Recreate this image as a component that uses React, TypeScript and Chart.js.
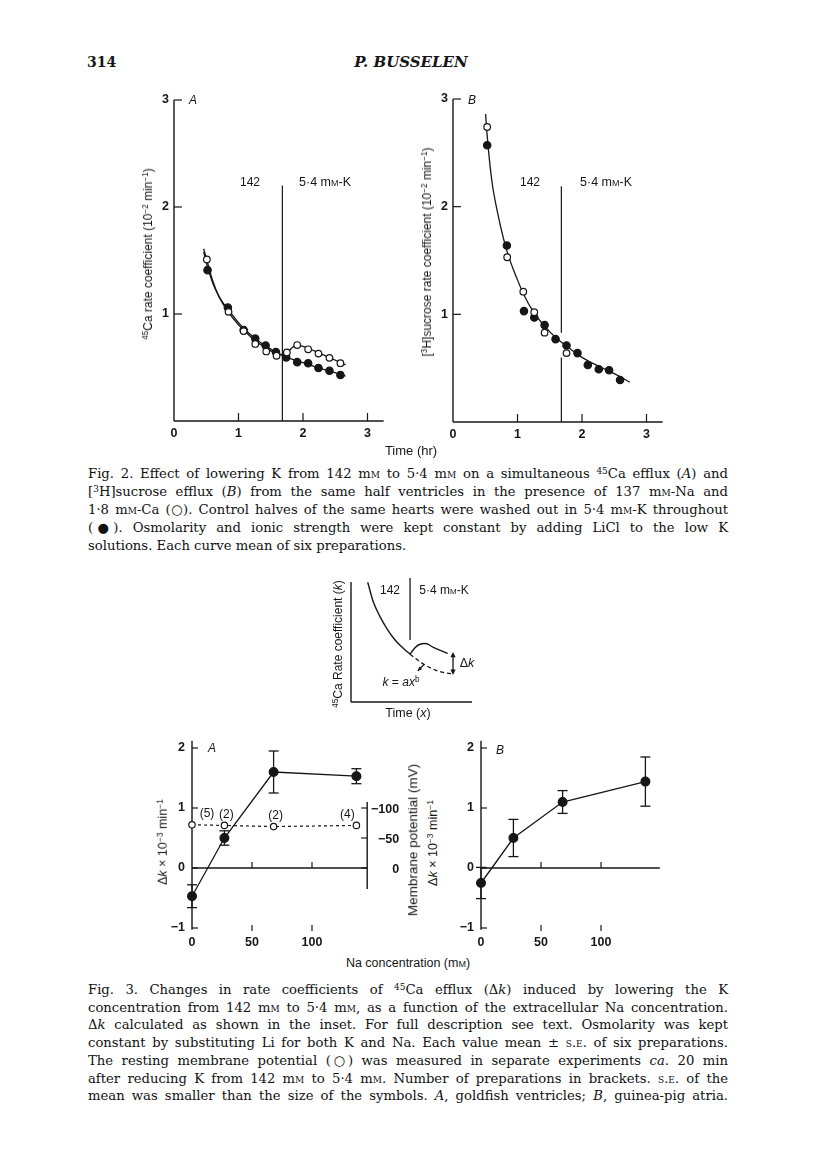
import React, { useEffect, useRef } from "react";
import { Chart, registerables } from "chart.js";
Chart.register(...registerables);

const SANS = "'Liberation Sans', Arial, Helvetica, sans-serif";
const SERIF = "'DejaVu Serif', 'Liberation Serif', serif";
const INK = "#161616";

// ---------------- Fig. 2 data ----------------
const fig2XTicks = [0, 1, 2, 3];
const fig2YTicks = [1, 2, 3];
const switchTime = 1.68;
const switchTop = 2.2;

// A: 45Ca efflux
const caOpenT = [0.51, 0.845, 1.08, 1.26, 1.43, 1.59, 1.75, 1.91, 2.08, 2.24, 2.41, 2.58];
const caOpenK = [1.51, 1.02, 0.84, 0.72, 0.65, 0.61, 0.64, 0.71, 0.67, 0.63, 0.59, 0.54];
const caFilledT = [0.52, 0.835, 1.08, 1.26, 1.42, 1.58, 1.74, 1.91, 2.08, 2.24, 2.41, 2.58];
const caFilledK = [1.41, 1.06, 0.85, 0.77, 0.705, 0.645, 0.595, 0.55, 0.54, 0.495, 0.47, 0.43];
const caOpenFitT = [0.46, 0.52, 0.6, 0.7, 0.84, 1.0, 1.1, 1.25, 1.42, 1.6, 1.68, 1.76, 1.9, 2.08, 2.25, 2.42, 2.66];
const caOpenFitK = [1.61, 1.48, 1.31, 1.16, 1.02, 0.9, 0.84, 0.755, 0.685, 0.625, 0.615, 0.645, 0.71, 0.68, 0.635, 0.59, 0.525];
const caFilledFitT = [0.46, 0.52, 0.6, 0.7, 0.84, 1.0, 1.1, 1.25, 1.42, 1.6, 1.75, 1.92, 2.08, 2.25, 2.42, 2.66];
const caFilledFitK = [1.58, 1.44, 1.29, 1.16, 1.04, 0.92, 0.855, 0.775, 0.7, 0.64, 0.595, 0.56, 0.53, 0.495, 0.465, 0.42];

// B: [3H]sucrose efflux
const sucOpenT = [0.53, 0.84, 1.09, 1.26, 1.42, 1.76];
const sucOpenK = [2.74, 1.53, 1.21, 1.02, 0.83, 0.64];
const sucFilledT = [0.53, 0.835, 1.1, 1.26, 1.42, 1.59, 1.76, 1.93, 2.09, 2.26, 2.42, 2.59];
const sucFilledK = [2.57, 1.64, 1.03, 0.97, 0.9, 0.77, 0.71, 0.64, 0.53, 0.49, 0.48, 0.39];
const sucFitT = [0.505, 0.53, 0.6, 0.7, 0.84, 1.0, 1.1, 1.25, 1.42, 1.6, 1.75, 2.0, 2.25, 2.5, 2.74];
const sucFitK = [2.86, 2.66, 2.25, 1.92, 1.58, 1.32, 1.18, 1.02, 0.89, 0.78, 0.71, 0.6, 0.52, 0.45, 0.37];
const sucSwitchUpper = [2.19, 0.83];
const sucSwitchLower = [0.6, 0];

// ---------------- Inset data (arbitrary units) ----------------
const insetPreX = [1.38, 1.84, 2.4, 2.95, 3.64, 4.32, 4.88];
const insetPreY = [9.98, 8.36, 7.11, 6.14, 5.17, 4.47, 3.98];
const insetPostX = [4.88, 5.29, 5.7, 6.26, 6.8, 7.99];
const insetPostY = [3.98, 4.53, 4.81, 4.85, 4.55, 4.06];
const insetExtX = [4.88, 5.7, 6.53, 7.36, 8.46];
const insetExtY = [3.98, 3.36, 2.86, 2.53, 2.33];
const insetSwitchX = 4.88;
const insetSwitchY = [5.17, 10.33];
const insetDeltaX = 8.43;
const insetDeltaY = [4.17, 2.25];

// ---------------- Fig. 3 data ----------------
const naConc = [0, 27, 68, 137];
const naTicks = [0, 50, 100];
const dkTicks = [2, 1, 0, -1];
const dkA = [-0.47, 0.5, 1.6, 1.53];
const dkAErr = [0.19, 0.12, 0.35, 0.125];
const mvA = [-72, -71, -69, -71];
const mvTicks = [-100, -50, 0];
const nPreps = ["(5)", "(2)", "(2)", "(4)"];
const dkB = [-0.25, 0.5, 1.1, 1.44];
const dkBErr = [0.26, 0.31, 0.19, 0.41];

// ---------------- helpers ----------------
type Rect = { l: number; t: number; w: number; h: number };
type Area = { x0: number; x1: number; y0: number; y1: number };

const xy = (xs: number[], ys: (number | null)[]) => xs.map((x, i) => ({ x, y: ys[i] }));
const pad = (r: Rect, a: Area) => ({
  left: a.x0 - r.l,
  right: r.l + r.w - a.x1,
  top: a.y0 - r.t,
  bottom: r.t + r.h - a.y1,
});

function seg(ctx: CanvasRenderingContext2D, x1: number, y1: number, x2: number, y2: number) {
  ctx.beginPath();
  ctx.moveTo(x1, y1);
  ctx.lineTo(x2, y2);
  ctx.stroke();
}
function head(ctx: CanvasRenderingContext2D, x: number, y: number, ang: number, s = 5) {
  ctx.beginPath();
  ctx.moveTo(x, y);
  ctx.lineTo(x - s * Math.cos(ang - 0.45), y - s * Math.sin(ang - 0.45));
  ctx.lineTo(x - s * Math.cos(ang + 0.45), y - s * Math.sin(ang + 0.45));
  ctx.closePath();
  ctx.fill();
}

const STRAIGHT = { tension: 0, cubicInterpolationMode: "default" };
const lineDs = (data: any[], extra: any = {}) => ({
  data,
  showLine: true,
  borderColor: INK,
  borderWidth: 1.3,
  pointRadius: 0,
  tension: 0.4,
  cubicInterpolationMode: "monotone",
  fill: false,
  clip: false,
  ...extra,
});
const ptDs = (data: any[], open: boolean, r: number, extra: any = {}) => ({
  data,
  showLine: false,
  pointRadius: r,
  pointBackgroundColor: open ? "#fff" : INK,
  pointBorderColor: INK,
  pointBorderWidth: 1.2,
  clip: false,
  ...extra,
});

function baseOptions(r: Rect, a: Area, scales: any) {
  return {
    responsive: false,
    maintainAspectRatio: false,
    animation: false,
    devicePixelRatio: 1,
    events: [],
    layout: { padding: pad(r, a) },
    plugins: { legend: { display: false }, tooltip: { enabled: false }, title: { display: false } },
    scales,
  };
}

function ChartBox({ rect, build }: { rect: Rect; build: () => any }) {
  const ref = useRef<HTMLCanvasElement>(null);
  useEffect(() => {
    const ch = new Chart(ref.current as HTMLCanvasElement, build());
    return () => ch.destroy();
  }, []);
  return (
    <canvas
      ref={ref}
      width={rect.w}
      height={rect.h}
      style={{ position: "absolute", left: rect.l, top: rect.t, width: rect.w, height: rect.h }}
    />
  );
}

const TICKFONT = `bold 12.5px ${SANS}`;

// ---------------- Fig. 2 panels ----------------
const RECT2A: Rect = { l: 120, t: 80, w: 290, h: 370 };
const AREA2A: Area = { x0: 174, x1: 174 + 3.3 * 64.5, y0: 100, y1: 421 };
const RECT2B: Rect = { l: 400, t: 80, w: 290, h: 370 };
const AREA2B: Area = { x0: 453, x1: 453 + 3.3 * 64.5, y0: 99, y1: 422 };

function fig2Axes(chart: any) {
  const ctx = chart.ctx as CanvasRenderingContext2D;
  const X = (v: number) => chart.scales.x.getPixelForValue(v);
  const Y = (v: number) => chart.scales.y.getPixelForValue(v);
  ctx.save();
  ctx.strokeStyle = INK;
  ctx.lineWidth = 1.4;
  seg(ctx, X(0), Y(0), X(0), Y(3));
  seg(ctx, X(0), Y(0), X(3.25), Y(0));
  ctx.lineWidth = 1.2;
  fig2YTicks.forEach((v) => seg(ctx, X(0), Y(v), X(0) + 8, Y(v)));
  fig2XTicks.slice(1).forEach((v) => seg(ctx, X(v), Y(0), X(v), Y(0) - 8));
  ctx.fillStyle = INK;
  ctx.font = TICKFONT;
  ctx.textBaseline = "middle";
  ctx.textAlign = "right";
  fig2YTicks.forEach((v) => ctx.fillText(String(v), X(0) - 5, Y(v)));
  ctx.textAlign = "center";
  fig2XTicks.forEach((v) => ctx.fillText(String(v), X(v), Y(0) + 13));
  ctx.restore();
}

const scales2 = {
  x: { type: "linear", min: 0, max: 3.3, display: false },
  y: { type: "linear", min: 0, max: 3, display: false },
};

const build2A = () => ({
  type: "scatter",
  data: {
    datasets: [
      ptDs(xy(caOpenT, caOpenK), true, 3.3),
      ptDs(xy(caFilledT, caFilledK), false, 3.7),
      lineDs(xy(caOpenFitT, caOpenFitK)),
      lineDs(xy(caFilledFitT, caFilledFitK)),
      lineDs(xy([switchTime, switchTime], [0, switchTop]), { ...STRAIGHT, borderWidth: 1.2 }),
    ],
  },
  options: baseOptions(RECT2A, AREA2A, scales2),
  plugins: [{ id: "ax2a", beforeDatasetsDraw: fig2Axes }],
});

const build2B = () => ({
  type: "scatter",
  data: {
    datasets: [
      ptDs(xy(sucOpenT, sucOpenK), true, 3.3),
      ptDs(xy(sucFilledT, sucFilledK), false, 3.7),
      lineDs(xy(sucFitT, sucFitK)),
      lineDs(
        [
          { x: switchTime, y: sucSwitchUpper[0] },
          { x: switchTime, y: sucSwitchUpper[1] },
          { x: switchTime, y: null },
          { x: switchTime, y: sucSwitchLower[0] },
          { x: switchTime, y: sucSwitchLower[1] },
        ],
        { ...STRAIGHT, borderWidth: 1.2, spanGaps: false }
      ),
    ],
  },
  options: baseOptions(RECT2B, AREA2B, scales2),
  plugins: [{ id: "ax2b", beforeDatasetsDraw: fig2Axes }],
});

// ---------------- Inset ----------------
const RECTI: Rect = { l: 330, t: 565, w: 160, h: 150 };
const AREAI: Area = { x0: 351, x1: 472, y0: 576, y1: 702 };

const buildInset = () => ({
  type: "scatter",
  data: {
    datasets: [
      lineDs(xy(insetPreX, insetPreY), { borderWidth: 1.4 }),
      lineDs(xy(insetPostX, insetPostY), { borderWidth: 1.4, cubicInterpolationMode: "default", tension: 0.35 }),
      lineDs(xy(insetExtX, insetExtY), { borderWidth: 1.3, borderDash: [4, 3] }),
      lineDs(xy([insetSwitchX, insetSwitchX], insetSwitchY), { ...STRAIGHT, borderWidth: 1.3 }),
    ],
  },
  options: baseOptions(RECTI, AREAI, {
    x: { type: "linear", min: 0, max: 10, display: false },
    y: { type: "linear", min: 0, max: 10.5, display: false },
  }),
  plugins: [
    {
      id: "axi",
      beforeDatasetsDraw(chart: any) {
        const ctx = chart.ctx as CanvasRenderingContext2D;
        const X = (v: number) => chart.scales.x.getPixelForValue(v);
        const Y = (v: number) => chart.scales.y.getPixelForValue(v);
        ctx.save();
        ctx.strokeStyle = INK;
        ctx.fillStyle = INK;
        ctx.lineWidth = 1.4;
        seg(ctx, X(0), Y(10), X(0), Y(0));
        seg(ctx, X(0), Y(0), X(10), Y(0));
        ctx.lineWidth = 1.3;
        const ax = X(insetDeltaX);
        const yt = Y(insetDeltaY[0]);
        const yb = Y(insetDeltaY[1]);
        seg(ctx, ax, yt + 3, ax, yb - 3);
        head(ctx, ax, yt, -Math.PI / 2, 6);
        head(ctx, ax, yb, Math.PI / 2, 6);
        const x1 = X(6.06), y1 = Y(3.14), x2 = X(5.52), y2 = Y(2.61);
        seg(ctx, x1, y1, x2, y2);
        head(ctx, x2, y2, Math.atan2(y2 - y1, x2 - x1), 4.5);
        ctx.restore();
      },
    },
  ],
});

// ---------------- Fig. 3 panels ----------------
const RECT3A: Rect = { l: 150, t: 725, w: 270, h: 230 };
const AREA3A: Area = { x0: 192, x1: 192 + 146 * 1.2, y0: 742, y1: 934 };
const RECT3B: Rect = { l: 440, t: 725, w: 240, h: 230 };
const AREA3B: Area = { x0: 481, x1: 481 + 150 * 1.2, y0: 742, y1: 934 };

function fig3Axes(chart: any, xEnd: number, vals: number[], errs: number[]) {
  const ctx = chart.ctx as CanvasRenderingContext2D;
  const X = (v: number) => chart.scales.x.getPixelForValue(v);
  const Y = (v: number) => chart.scales.y.getPixelForValue(v);
  ctx.save();
  ctx.strokeStyle = INK;
  ctx.fillStyle = INK;
  ctx.lineWidth = 1.4;
  seg(ctx, X(0), Y(2.12), X(0), Y(-1.03));
  seg(ctx, X(0), Y(0), X(xEnd), Y(0));
  ctx.lineWidth = 1.2;
  dkTicks.forEach((v) => seg(ctx, X(0), Y(v), X(0) + 6, Y(v)));
  naTicks.slice(1).forEach((v) => {
    seg(ctx, X(v), Y(0), X(v), Y(0) - 6);
    seg(ctx, X(v), Y(-1) - 3, X(v), Y(-1) + 3);
  });
  ctx.font = TICKFONT;
  ctx.textBaseline = "middle";
  ctx.textAlign = "right";
  dkTicks.forEach((v) => ctx.fillText(v < 0 ? "\u2212" + Math.abs(v) : String(v), X(0) - 7, Y(v)));
  ctx.textAlign = "center";
  naTicks.forEach((v) => ctx.fillText(String(v), X(v), Y(-1) + 15));
  ctx.lineWidth = 1.3;
  naConc.forEach((n, i) => {
    const x = X(n);
    const yt = Y(vals[i] + errs[i]);
    const yb = Y(vals[i] - errs[i]);
    seg(ctx, x, yt, x, yb);
    seg(ctx, x - 5, yt, x + 5, yt);
    seg(ctx, x - 5, yb, x + 5, yb);
  });
  ctx.restore();
}

const build3A = () => ({
  type: "scatter",
  data: {
    datasets: [
      ptDs(xy(naConc, dkA), false, 4.4),
      ptDs(xy(naConc, mvA), true, 3.2, { yAxisID: "y2" }),
      lineDs(xy(naConc, dkA), STRAIGHT),
      lineDs(xy(naConc, mvA), { ...STRAIGHT, yAxisID: "y2", borderDash: [3, 3], borderWidth: 1.2 }),
    ],
  },
  options: baseOptions(RECT3A, AREA3A, {
    x: { type: "linear", min: 0, max: 146, display: false },
    y: { type: "linear", min: -1.1, max: 2.1, display: false },
    y2: { type: "linear", min: -210, max: 110, reverse: true, display: false },
  }),
  plugins: [
    {
      id: "ax3a",
      beforeDatasetsDraw(chart: any) {
        fig3Axes(chart, 146, dkA, dkAErr);
        const ctx = chart.ctx as CanvasRenderingContext2D;
        const X = (v: number) => chart.scales.x.getPixelForValue(v);
        const Y2 = (v: number) => chart.scales.y2.getPixelForValue(v);
        ctx.save();
        ctx.strokeStyle = INK;
        ctx.fillStyle = INK;
        ctx.lineWidth = 1.4;
        const xr = X(146);
        seg(ctx, xr, Y2(-110), xr, Y2(35));
        ctx.lineWidth = 1.2;
        mvTicks.forEach((v) => seg(ctx, xr, Y2(v), xr - 6, Y2(v)));
        ctx.font = TICKFONT;
        ctx.textBaseline = "middle";
        ctx.textAlign = "right";
        mvTicks.forEach((v) => ctx.fillText(v < 0 ? "\u2212" + Math.abs(v) : String(v), xr + 32, Y2(v) + 2));
        ctx.font = `12px ${SANS}`;
        ctx.textAlign = "center";
        const offs = [15, 2, 2, -9];
        nPreps.forEach((s, i) => ctx.fillText(s, X(naConc[i]) + offs[i], Y2(mvA[i]) - 11));
        ctx.restore();
      },
    },
  ],
});

const build3B = () => ({
  type: "scatter",
  data: {
    datasets: [
      ptDs(xy(naConc, dkB), false, 4.4),
      lineDs(xy(naConc, dkB), STRAIGHT),
    ],
  },
  options: baseOptions(RECT3B, AREA3B, {
    x: { type: "linear", min: 0, max: 150, display: false },
    y: { type: "linear", min: -1.1, max: 2.1, display: false },
  }),
  plugins: [{ id: "ax3b", beforeDatasetsDraw: (chart: any) => fig3Axes(chart, 149, dkB, dkBErr) }],
});

// ---------------- text helpers ----------------
const Sup = ({ c }: { c: string }) => (
  <span style={{ fontSize: "0.68em", verticalAlign: "0.5em", lineHeight: 0 }}>{c}</span>
);
const Mm = () => (
  <>
    m<span style={{ fontVariant: "small-caps" }}>m</span>
  </>
);
const SC = ({ c }: { c: string }) => <span style={{ fontVariant: "small-caps" }}>{c}</span>;
const Sym = ({ c }: { c: string }) => <span style={{ margin: "0 -1.5px" }}>{c}</span>;

function L({
  x,
  y,
  size = 12,
  rot = false,
  italic = false,
  bold = false,
  font = SANS,
  children,
}: any) {
  return (
    <div
      style={{
        position: "absolute",
        left: x,
        top: y,
        transform: `translate(-50%,-50%)${rot ? " rotate(-90deg)" : ""}`,
        whiteSpace: "nowrap",
        fontFamily: font,
        fontSize: size,
        fontStyle: italic ? "italic" : "normal",
        fontWeight: bold ? 700 : 400,
        lineHeight: 1,
        color: INK,
      }}
    >
      {children}
    </div>
  );
}

function Cap({ y, last = false, children }: any) {
  return (
    <div
      style={{
        position: "absolute",
        left: 88,
        top: y - 9,
        width: 640,
        height: 18,
        lineHeight: "18px",
        fontFamily: SERIF,
        fontSize: 13.2,
        textAlign: "justify",
        textAlignLast: last ? "left" : "justify",
        color: "#111",
      }}
    >
      {children}
    </div>
  );
}

export default function App() {
  const c2 = [474, 492, 510, 528, 546];
  const c3 = [990, 1007.7, 1025.4, 1043.1, 1060.8, 1078.5, 1096.2];
  return (
    <div
      style={{
        position: "absolute",
        left: 0,
        top: 0,
        width: 816,
        height: 1160,
        background: "#fff",
        overflow: "hidden",
      }}
    >
      {/* header */}
      <div style={{ position: "absolute", left: 87, top: 53, fontFamily: SERIF, fontWeight: 700, fontSize: 14, lineHeight: "18px", color: INK }}>
        314
      </div>
      <L x={411} y={62} size={15} font={SERIF} bold italic>
        P. BUSSELEN
      </L>

      {/* Fig. 2 */}
      <ChartBox rect={RECT2A} build={build2A} />
      <ChartBox rect={RECT2B} build={build2B} />
      <L x={193} y={100} size={12} italic>A</L>
      <L x={472} y={100} size={12} italic>B</L>
      <L x={148} y={254} size={12} rot>
        <Sup c="45" />Ca rate coefficient (10<Sup c="−2" /> min<Sup c="−1" />)
      </L>
      <L x={427} y={252} size={12} rot>
        [<Sup c="3" />H]sucrose rate coefficient (10<Sup c="−2" /> min<Sup c="−1" />)
      </L>
      <L x={250} y={182} size={12}>142</L>
      <L x={325} y={182} size={12.5}>5·4 <Mm />-K</L>
      <L x={530} y={182} size={12}>142</L>
      <L x={606} y={182} size={12.5}>5·4 <Mm />-K</L>
      <L x={411} y={450} size={13}>Time (hr)</L>

      <Cap y={c2[0]}>
        Fig. 2. Effect of lowering K from 142 <Mm /> to 5·4 <Mm /> on a simultaneous <Sup c="45" />Ca efflux (<i>A</i>) and
      </Cap>
      <Cap y={c2[1]}>
        [<Sup c="3" />H]sucrose efflux (<i>B</i>) from the same half ventricles in the presence of 137 <Mm />-Na and
      </Cap>
      <Cap y={c2[2]}>
        1·8 <Mm />-Ca (<Sym c="○" />). Control halves of the same hearts were washed out in 5·4 <Mm />-K throughout
      </Cap>
      <Cap y={c2[3]}>
        (<Sym c="●" />). Osmolarity and ionic strength were kept constant by adding LiCl to the low K
      </Cap>
      <Cap y={c2[4]} last>
        solutions. Each curve mean of six preparations.
      </Cap>

      {/* Inset */}
      <ChartBox rect={RECTI} build={buildInset} />
      <L x={338} y={644} size={12} rot>
        <Sup c="45" />Ca Rate coefficient (<i>k</i>)
      </L>
      <L x={390} y={590} size={12}>142</L>
      <L x={444} y={590} size={12}>5·4 <Mm />-K</L>
      <L x={467} y={663} size={12.5}>Δ<i>k</i></L>
      <L x={401} y={682} size={12}>
        <i>k</i> = <i>ax</i><Sup c="b" />
      </L>
      <L x={408} y={713} size={12.5}>
        Time (<i>x</i>)
      </L>

      {/* Fig. 3 */}
      <ChartBox rect={RECT3A} build={build3A} />
      <ChartBox rect={RECT3B} build={build3B} />
      <L x={212} y={748} size={12} italic>A</L>
      <L x={500} y={750} size={12} italic>B</L>
      <L x={163} y={842} size={12.5} rot>
        Δ<i>k</i> × 10<Sup c="−3" /> min<Sup c="−1" />
      </L>
      <L x={433} y={843} size={12.5} rot>
        Δ<i>k</i> × 10<Sup c="−3" /> min<Sup c="−1" />
      </L>
      <L x={413} y={840} size={13.5} rot>
        Membrane potential (mV)
      </L>
      <L x={408} y={963} size={12.5}>
        Na concentration (<Mm />)
      </L>

      <Cap y={c3[0]}>
        Fig. 3. Changes in rate coefficients of <Sup c="45" />Ca efflux (Δ<i>k</i>) induced by lowering the K
      </Cap>
      <Cap y={c3[1]}>
        concentration from 142 <Mm /> to 5·4 <Mm />, as a function of the extracellular Na concentration.
      </Cap>
      <Cap y={c3[2]}>
        Δ<i>k</i> calculated as shown in the inset. For full description see text. Osmolarity was kept
      </Cap>
      <Cap y={c3[3]}>
        constant by substituting Li for both K and Na. Each value mean ± <SC c="s.e." /> of six preparations.
      </Cap>
      <Cap y={c3[4]}>
        The resting membrane potential (<Sym c="○" />) was measured in separate experiments <i>ca</i>. 20 min
      </Cap>
      <Cap y={c3[5]}>
        after reducing K from 142 <Mm /> to 5·4 <Mm />. Number of preparations in brackets. <SC c="s.e." /> of the
      </Cap>
      <Cap y={c3[6]}>
        mean was smaller than the size of the symbols. <i>A</i>, goldfish ventricles; <i>B</i>, guinea-pig atria.
      </Cap>
    </div>
  );
}
